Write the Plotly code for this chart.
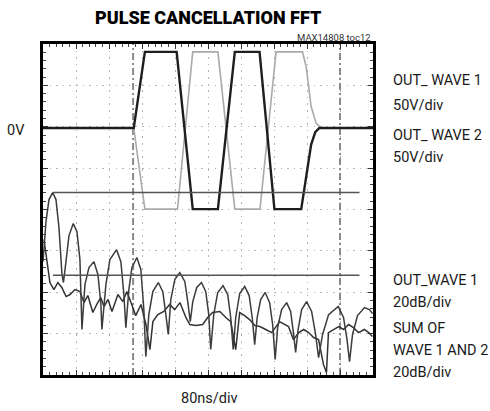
import plotly.graph_objects as go

# ---------------- data ----------------
# Oscilloscope time traces: time in ns (80 ns/div), voltage in V (50 V/div)
wave1_t = [0, 220, 247, 324, 363, 424, 465, 525, 561, 626, 650, 660, 670, 800]
wave1_v = [0, 0, 92, 92, -98, -98, 92, 92, -98, -98, -20, -5, 0, 0]
wave2_t = [0, 220, 247, 326, 363, 424, 465, 526, 565, 629, 638, 650, 662, 674, 800]
wave2_v = [0, 0, -98, -98, 92, 92, -98, -98, 92, 92, 74, 26, 6, 0, 0]

# FFT traces: frequency position in divisions, level in dB relative to upper reference line
fft1_f = [0.000, 0.091, 0.182, 0.293, 0.393, 0.484, 0.575, 0.620, 0.696, 0.787,
          0.917, 1.029, 1.119, 1.180, 1.271, 1.392, 1.543, 1.664, 1.755, 1.785,
          1.906, 2.027, 2.230, 2.360, 2.451, 2.511, 2.602, 2.693, 2.844, 2.965,
          3.056, 3.116, 3.207, 3.328, 3.495, 3.631, 3.722, 3.797, 3.873, 3.994,
          4.145, 4.297, 4.387, 4.463, 4.539, 4.660, 4.802, 4.932, 5.023, 5.083,
          5.174, 5.295, 5.455, 5.598, 5.688, 5.764, 5.840, 5.961, 6.112, 6.248,
          6.339, 6.415, 6.490, 6.596, 6.732, 6.868, 6.959, 7.035, 7.110, 7.231,
          7.383, 7.504, 7.595, 7.655, 7.731, 7.837, 7.988, 8.140, 8.260, 8.351,
          8.472, 8.654, 8.947, 9.107, 9.213, 9.289, 9.380, 9.531, 9.743, 9.894, 9.985]
fft1_db = [-33.4, -14.0, -3.4, 0.0, -3.4, -16.9, -39.6, -43.5, -33.4, -20.8,
           -15.0, -18.9, -32.4, -66.2, -44.5, -36.3, -33.4, -39.6, -54.1, -66.2,
           -44.5, -32.4, -27.6, -33.4, -49.3, -65.3, -46.9, -36.3, -31.4, -37.2,
           -56.6, -79.3, -59.0, -47.9, -43.5, -47.9, -59.0, -68.6, -51.7, -42.1,
           -38.7, -43.0, -52.7, -62.4, -52.7, -45.9, -43.5, -47.9, -59.0, -75.9,
           -59.0, -48.3, -45.0, -49.3, -60.4, -75.9, -60.4, -48.8, -45.4, -49.8,
           -60.4, -73.5, -60.4, -51.7, -48.3, -53.2, -63.8, -80.7, -65.3, -56.6,
           -53.2, -57.5, -68.6, -77.3, -66.2, -56.6, -52.7, -57.5, -68.6, -79.8,
           -68.6, -59.0, -55.1, -60.4, -71.1, -81.7, -68.6, -59.5, -55.6, -56.6, -58.5]

sum_f = [0.03, 0.21, 0.33, 0.45, 0.57, 0.70, 0.82, 0.97, 1.12, 1.24, 1.36, 1.51, 1.63, 1.75,
         1.85, 1.97, 2.09, 2.27, 2.42, 2.54, 2.69, 2.81, 2.97, 3.12, 3.24, 3.33, 3.48, 3.66,
         3.84, 3.99, 4.15, 4.33, 4.45, 4.63, 4.84, 4.99, 5.14, 5.36, 5.54, 5.69, 5.84, 5.96,
         6.11, 6.26, 6.42, 6.57, 6.75, 6.93, 7.17, 7.32, 7.44, 7.59, 7.75, 7.90, 8.05, 8.20,
         8.35, 8.50, 8.59, 8.65, 8.80, 8.96, 9.11, 9.26, 9.41, 9.56, 9.74, 9.87, 9.98]
sum_db = [-22.7, -43.5, -46.9, -43.5, -45.9, -50.3, -49.3, -46.9, -47.9, -53.2, -49.8, -58.0,
          -54.1, -50.8, -55.1, -51.7, -57.5, -49.3, -52.7, -47.9, -54.1, -59.5, -54.1, -63.8,
          -75.9, -62.4, -59.0, -57.5, -54.1, -56.6, -53.2, -60.4, -63.8, -64.3, -63.8, -60.4,
          -58.0, -57.5, -60.4, -62.4, -75.9, -58.0, -59.5, -61.4, -64.3, -64.8, -66.2, -67.7,
          -62.4, -63.8, -64.8, -71.1, -67.7, -66.2, -67.7, -70.1, -71.1, -83.2, -87.0, -67.7,
          -66.2, -64.8, -66.2, -63.8, -65.3, -67.7, -66.2, -67.7, -69.6]

# reference (cursor) levels in dB and their extent in divisions
ref_f = [0.30, 9.59]
ref_levels_db = [0, -40]
# vertical cursor positions (divisions)
cursor_f = [2.73, 9.0]

# screen scaling
NS_PER_DIV = 80
V_PER_DIV = 50
DB_PER_DIV = 20
ZERO_V_DIV = 5.97
REF_DIV = 4.41

w1x = [t / NS_PER_DIV for t in wave1_t]
w1y = [ZERO_V_DIV + v / V_PER_DIV for v in wave1_v]
w2x = [t / NS_PER_DIV for t in wave2_t]
w2y = [ZERO_V_DIV + v / V_PER_DIV for v in wave2_v]
f1y = [REF_DIV + d / DB_PER_DIV for d in fft1_db]
sy = [REF_DIV + d / DB_PER_DIV for d in sum_db]

fig = go.Figure()
for c in cursor_f:
    fig.add_trace(go.Scatter(x=[c, c], y=[0, 8], mode="lines",
                             line=dict(color="#8a8a8a", width=2, dash="7px,3px,2px,3px"),
                             hoverinfo="skip"))
fig.add_trace(go.Scatter(x=w2x, y=w2y, mode="lines", line=dict(color="#aaaaaa", width=1.6)))
fig.add_trace(go.Scatter(x=w1x, y=w1y, mode="lines", line=dict(color="#1e1e1e", width=2.4)))
fig.add_trace(go.Scatter(x=sum_f, y=sy, mode="lines", line=dict(color="#333333", width=1.5)))
fig.add_trace(go.Scatter(x=fft1_f, y=f1y, mode="lines", line=dict(color="#3c3c3c", width=1.5)))
for lvl in ref_levels_db:
    yv = REF_DIV + lvl / DB_PER_DIV
    fig.add_trace(go.Scatter(x=ref_f, y=[yv, yv], mode="lines",
                             line=dict(color="#555555", width=1.5)))

axis_common = dict(
    showgrid=True, gridcolor="#b4b4b4", gridwidth=1.3, griddash="1.5px,5.1px",
    zeroline=False, showline=True, linecolor="black", linewidth=2.6, mirror="ticks",
    ticks="inside", ticklen=5, tickwidth=1.2, tickcolor="#333333",
    minor=dict(ticks="inside", ticklen=3, tickwidth=1, tickcolor="#444444", dtick=0.2, showgrid=False),
    showticklabels=False, dtick=1, fixedrange=True,
)
fig.update_xaxes(range=[0, 10], **axis_common)
fig.update_yaxes(range=[0, 8], **axis_common)

L, R, T, B = 43, 373, 44, 375
def px(x):
    return (x - L) / (R - L)
def py(y):
    return (B - y) / (B - T)

FONT = "Roboto, Liberation Sans, sans-serif"
ann = []
def add_text(text, x, y, size=14.5, anchor="left", color="#1a1a1a", weight="normal"):
    ann.append(dict(text=text, x=px(x), y=py(y), xref="paper", yref="paper",
                    xanchor=anchor, yanchor="middle", showarrow=False,
                    font=dict(family=FONT, size=size, color=color, weight=weight)))

add_text("PULSE CANCELLATION FFT", 208.5, 17.5, size=18, anchor="center", color="#000000", weight=900)
add_text("MAX14808 toc12", 373, 37.5, size=9.5, anchor="right", color="#333333")
add_text("0V", 16, 130.5, anchor="center")
add_text("80ns/div", 209.5, 398, anchor="center")
right_x = 391
for txt, yy in [("OUT_ WAVE 1", 81), ("50V/div", 105), ("OUT_ WAVE 2", 135), ("50V/div", 157),
                ("OUT_WAVE 1", 280), ("20dB/div", 302), ("SUM OF", 328),
                ("WAVE 1 AND 2", 350), ("20dB/div", 372)]:
    add_text(txt, right_x, yy)

fig.update_layout(
    width=490, height=411,
    margin=dict(l=L, r=490 - R, t=T, b=411 - B),
    paper_bgcolor="white", plot_bgcolor="white",
    showlegend=False, annotations=ann,
)
fig.write_html("out.html", config={"displayModeBar": False},
               post_script="document.body.style.margin='0';")
